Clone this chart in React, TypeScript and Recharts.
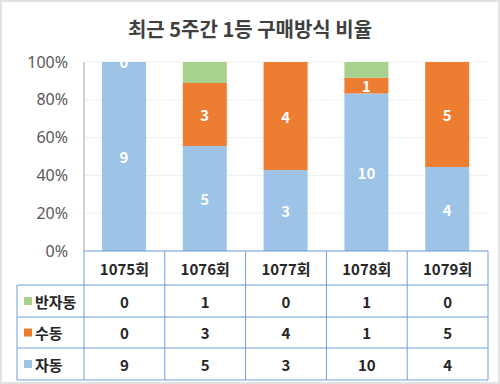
import { BarChart, Bar, XAxis, YAxis, CartesianGrid, LabelList } from "recharts";

const rounds = ["1075회", "1076회", "1077회", "1078회", "1079회"];
const autoCounts = [9, 5, 3, 10, 4];
const manualCounts = [0, 3, 4, 1, 5];
const semiCounts = [0, 1, 0, 1, 0];
const yTicks = [0, 0.2, 0.4, 0.6, 0.8, 1];

const data = rounds.map((round, i) => ({
  round,
  auto: autoCounts[i],
  manual: manualCounts[i],
  semi: semiCounts[i],
}));

const AUTO = "#9DC3E6";
const MANUAL = "#ED7D31";
const SEMI = "#A9D18E";
const LINE = "#6E9FD9";
const TXT = "#262626";
const FONT = "'Noto Sans CJK KR', 'Noto Sans', sans-serif";

// table rows, top to bottom
const rows = [
  { name: "반자동", color: SEMI, values: semiCounts },
  { name: "수동", color: MANUAL, values: manualCounts },
  { name: "자동", color: AUTO, values: autoCounts },
];

const W = 500;
const H = 384;
const M = { top: 62, right: 12, left: 0, bottom: 4 };
const Y_W = 84;
const X_H = 129;
const plotW = W - M.left - M.right - Y_W;
const colW = plotW / rounds.length;
const rowEdges = [34, 66, 97, 129];
const tableLeft = 17;

function TableTick(props: any) {
  const { x, y, payload, index } = props;
  const left = x - colW / 2;
  const right = x + colW / 2;
  const plotRight = left + colW * (rounds.length - index);
  const textProps = {
    fontFamily: FONT,
    fontWeight: 700,
    fontSize: 15,
    fill: TXT,
    dominantBaseline: "central" as const,
  };
  return (
    <g>
      <line x1={right} y1={y} x2={right} y2={y + X_H} stroke={LINE} />
      {index === 0 && (
        <g>
          <line x1={left} y1={y} x2={left} y2={y + X_H} stroke={LINE} />
          <line x1={tableLeft} y1={y + rowEdges[0]} x2={tableLeft} y2={y + X_H} stroke={LINE} />
          {rowEdges.map((e) => (
            <line key={e} x1={tableLeft} y1={y + e} x2={plotRight} y2={y + e} stroke={LINE} />
          ))}
          {rows.map((r, ri) => {
            const cy = y + (rowEdges[ri] + rowEdges[ri + 1]) / 2;
            return (
              <g key={r.name}>
                <rect x={tableLeft + 7} y={cy - 4} width={8} height={8} fill={r.color} />
                <text x={tableLeft + 18} y={cy} {...textProps} textAnchor="start">
                  {r.name}
                </text>
              </g>
            );
          })}
        </g>
      )}
      <text x={x} y={y + rowEdges[0] / 2} {...textProps} textAnchor="middle">
        {payload.value}
      </text>
      {rows.map((r, ri) => (
        <text
          key={r.name}
          x={x}
          y={y + (rowEdges[ri] + rowEdges[ri + 1]) / 2}
          {...textProps}
          textAnchor="middle"
        >
          {r.values[index]}
        </text>
      ))}
    </g>
  );
}

function BarValue(props: any) {
  const { x, y, width, height, value } = props;
  if (value == null) return null;
  return (
    <text
      x={Number(x) + Number(width) / 2}
      y={Number(y) + Number(height) / 2}
      textAnchor="middle"
      dominantBaseline="central"
      fill="#ffffff"
      fontFamily={FONT}
      fontWeight={700}
      fontSize={15}
    >
      {value}
    </text>
  );
}

export default function App() {
  return (
    <div style={{ position: "absolute", left: 0, top: 0, width: W, height: H, background: "#fff" }}>
      <div
        style={{
          position: "absolute",
          top: 15,
          left: 0,
          width: W,
          textAlign: "center",
          fontFamily: FONT,
          fontWeight: 700,
          fontSize: 20,
          color: "#404040",
          lineHeight: "28px",
        }}
      >
        최근 5주간 1등 구매방식 비율
      </div>
      <BarChart width={W} height={H} data={data} margin={M} stackOffset="expand" barSize={44}>
        <CartesianGrid vertical={false} stroke="#efefef" />
        <XAxis
          dataKey="round"
          height={X_H}
          tickLine={false}
          tickSize={0}
          tickMargin={0}
          axisLine={{ stroke: LINE }}
          tick={<TableTick />}
          interval={0}
        />
        <XAxis xAxisId="top" dataKey="round" orientation="top" height={0} tick={false} tickLine={false} axisLine={{ stroke: "#a6a6a6" }} />
        <YAxis
          width={Y_W}
          domain={[0, 1]}
          ticks={yTicks}
          tickFormatter={(v: number) => `${Math.round(v * 100)}%`}
          tickLine={false}
          tickSize={0}
          tickMargin={16}
          axisLine={{ stroke: "#a6a6a6" }}
          tick={{ fill: "#595959", fontSize: 16, fontFamily: "'Noto Sans', sans-serif" }}
        />
        <YAxis yAxisId="right" orientation="right" width={0} domain={[0, 1]} tick={false} tickLine={false} axisLine={{ stroke: "#a6a6a6" }} />
        <Bar dataKey="auto" stackId="a" fill={AUTO} isAnimationActive={false}>
          <LabelList dataKey="auto" content={<BarValue />} />
        </Bar>
        <Bar dataKey="manual" stackId="a" fill={MANUAL} minPointSize={0.1} isAnimationActive={false}>
          <LabelList dataKey="manual" content={<BarValue />} />
        </Bar>
        <Bar dataKey="semi" stackId="a" fill={SEMI} isAnimationActive={false} />
      </BarChart>
      <div
        style={{
          position: "absolute",
          left: 0,
          top: 0,
          width: W,
          height: H,
          boxSizing: "border-box",
          border: "2px solid #e2e2e2",
          pointerEvents: "none",
        }}
      />
    </div>
  );
}
